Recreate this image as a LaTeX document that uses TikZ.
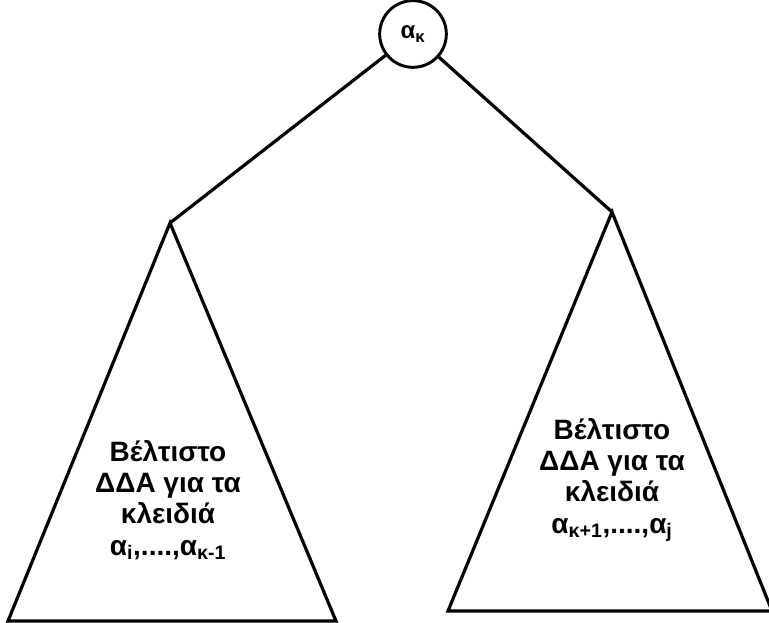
\documentclass[tikz,border=0pt]{standalone}
\usepackage{fontspec}
\setmainfont{Liberation Sans}
\usetikzlibrary{positioning}

\begin{document}
\begin{tikzpicture}[
x=0.75pt, y=-0.75pt,
keynode/.style={draw, circle, line width=2.2pt, minimum size=50pt, inner sep=0pt, font=\bfseries\fontsize{18}{20}\selectfont},
subtree/.style={draw, line width=2.4pt, line join=miter},
treelabel/.style={align=center, font=\bfseries\fontsize{21}{23.5}\selectfont},
line/.style={line width=2.4pt}
]

% --- Frame ---
\useasboundingbox (0,0) rectangle (769,623);

% --- Root key ---
\node[keynode] (root) at (413,34) {α\textsubscript{κ}};

% --- Left subtree ---
\coordinate (lapex) at (170,223);
\coordinate (lleft) at (8,621);
\coordinate (lright) at (336,621);
\draw[subtree] (lapex) -- (lleft) -- (lright) -- cycle;
\node[treelabel] (leftkeys) at (168,500) {Βέλτιστο\\ΔΔΑ για τα\\κλειδιά\\α\textsubscript{i},....,α\textsubscript{κ-1}};

% --- Right subtree ---
\coordinate (rapex) at (612,212);
\coordinate (rleft) at (448,611);
\coordinate (rright) at (772,611);
\draw[subtree] (rapex) -- (rleft) -- (rright) -- cycle;
\node[treelabel] (rightkeys) at (612,480) {Βέλτιστο\\ΔΔΑ για τα\\κλειδιά\\α\textsubscript{κ+1},....,α\textsubscript{j}};

% --- Connections ---
\draw[line] (root) -- (lapex);
\draw[line] (root) -- (rapex);

\end{tikzpicture}
\end{document}
